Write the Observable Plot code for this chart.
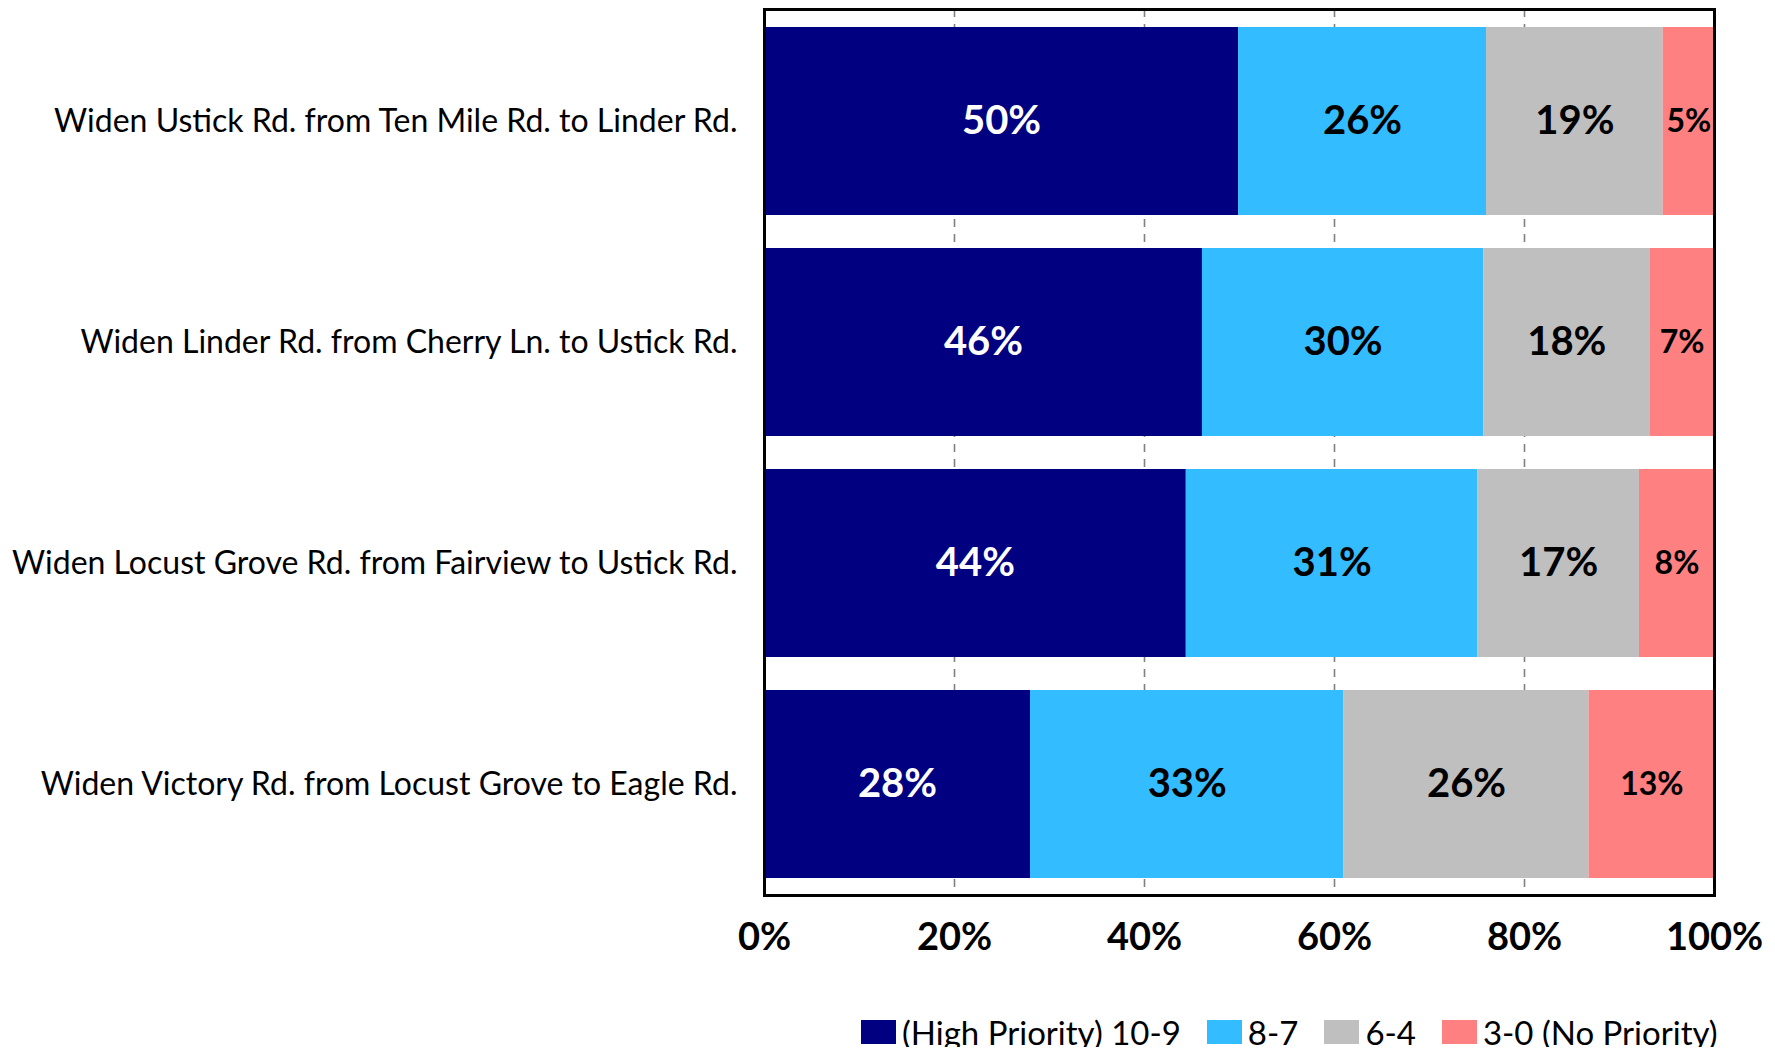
<!DOCTYPE html>
<html>
<head>
<meta charset="utf-8">
<script src="https://cdn.jsdelivr.net/npm/d3@7"></script>
<script src="https://cdn.jsdelivr.net/npm/@observablehq/plot@0.6"></script>
<style>
  body { margin: 0; background: #fff; font-family: Lato, sans-serif; }
  #legend { display: flex; align-items: center; padding-left: 861px; padding-top: 27px; height: 30px; font-family: Lato, sans-serif; font-size: 33px; line-height: 30px; color: #000; }
  #legend .item { display: flex; align-items: center; margin-right: 26px; white-space: nowrap; }
  #legend .sw { width: 35px; height: 24px; margin-right: 6px; }
</style>
</head>
<body>
<div id="chart"></div>
<div id="legend"></div>
<script>
const roads = [
  "Widen Ustick Rd. from Ten Mile Rd. to Linder Rd.",
  "Widen Linder Rd. from Cherry Ln. to Ustick Rd.",
  "Widen Locust Grove Rd. from Fairview to Ustick Rd.",
  "Widen Victory Rd. from Locust Grove to Eagle Rd."
];
const cats = ["(High Priority) 10-9", "8-7", "6-4", "3-0 (No Priority)"];
const colors = ["#000080", "#33BCFF", "#BFBFBF", "#FF8080"];
const highPriority = [49.9, 46.1, 44.4, 28.0];
const score87 = [26.1, 29.6, 30.7, 33.0];
const score64 = [18.6, 17.5, 17.0, 25.8];
const noPriority = [5.4, 6.8, 7.9, 13.2];
const xTicks = [0, 20, 40, 60, 80, 100];
const gridTicks = [20, 40, 60, 80];

const series = [highPriority, score87, score64, noPriority];
const data = [];
roads.forEach((road, i) => {
  cats.forEach((cat, j) => data.push({road, cat, value: series[j][i]}));
});
const lbl = d => Math.round(d.value) + "%";

const stackOpts = {x: "value", y: "road", z: "cat", order: cats};

const chart = Plot.plot({
  width: 1775,
  height: 990,
  marginLeft: 764,
  marginRight: 61,
  marginTop: 9,
  marginBottom: 95,
  style: {fontFamily: "Lato, sans-serif", background: "#fff", color: "#000"},
  x: {domain: [0, 100]},
  y: {domain: roads, paddingInner: 0.15, paddingOuter: 0.075},
  color: {domain: cats, range: colors},
  marks: [
    Plot.ruleX(gridTicks, {stroke: "#808080", strokeWidth: 1.6, strokeDasharray: "8,7"}),
    Plot.barX(data, Plot.stackX({...stackOpts, fill: "cat"})),
    Plot.text(data, Plot.stackX({...stackOpts, text: d => d.cat === cats[0] ? lbl(d) : "", fill: "white", fontSize: 40, fontWeight: "bold"})),
    Plot.text(data, Plot.stackX({...stackOpts, text: d => (d.cat === cats[1] || d.cat === cats[2]) ? lbl(d) : "", fill: "black", fontSize: 40, fontWeight: "bold"})),
    Plot.text(data, Plot.stackX({...stackOpts, text: d => d.cat === cats[3] ? lbl(d) : "", fill: "black", fontSize: 32, fontWeight: "bold"})),
    Plot.axisY({tickSize: 0, tickPadding: 27, fontSize: 32, label: null}),
    Plot.axisX({ticks: xTicks, tickFormat: d => d + "%", tickSize: 0, tickPadding: 28, fontSize: 38, fontWeight: "bold", label: null}),
    Plot.frame({stroke: "black", strokeWidth: 3})
  ]
});
document.getElementById("chart").appendChild(chart);

const legend = document.getElementById("legend");
cats.forEach((c, i) => {
  const item = document.createElement("div");
  item.className = "item";
  const sw = document.createElement("div");
  sw.className = "sw";
  sw.style.background = colors[i];
  const t = document.createElement("span");
  t.textContent = c;
  item.appendChild(sw);
  item.appendChild(t);
  legend.appendChild(item);
});
</script>
</body>
</html>
